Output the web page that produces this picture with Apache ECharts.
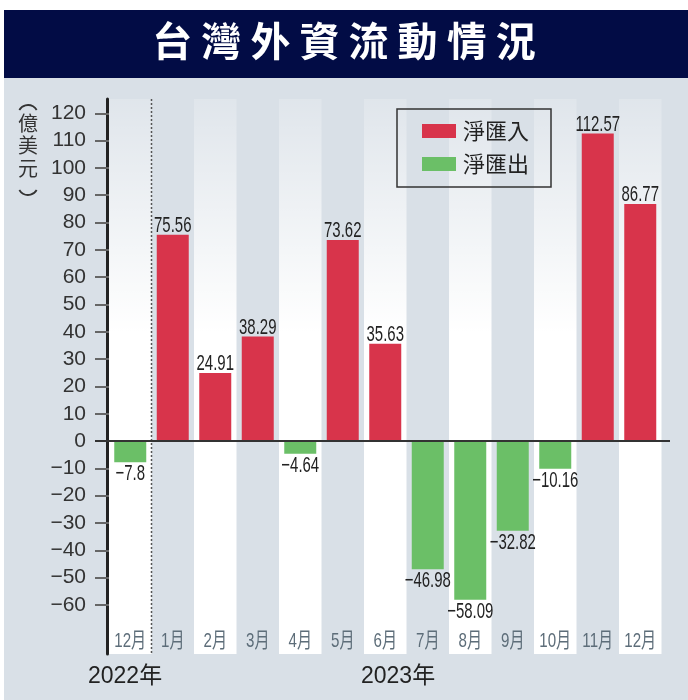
<!DOCTYPE html>
<html>
<head>
<meta charset="utf-8">
<script src="https://cdn.jsdelivr.net/npm/echarts@6/dist/echarts.min.js"></script>
<style>
html,body{margin:0;padding:0;background:#fff;}
#chart{width:688px;height:700px;}
</style>
</head>
<body>
<div id="chart"></div>
<script>
// ---- data ----
const titleText = '台灣外資流動情況';
const months = ['12月','1月','2月','3月','4月','5月','6月','7月','8月','9月','10月','11月','12月'];
const netFlow = [-7.8, 75.56, 24.91, 38.29, -4.64, 73.62, 35.63, -46.98, -58.09, -32.82, -10.16, 112.57, 86.77];
const seriesNames = ['淨匯入', '淨匯出'];
const yearLabels = ['2022年', '2023年'];
const unitChars = '億\n美\n元';

const inflow = netFlow.map(v => v > 0 ? v : null);
const outflow = netFlow.map(v => v < 0 ? v : null);

const RED = '#d8344b';
const GREEN = '#6bbf67';
const SANS = "'Liberation Sans', Arial, 'Noto Sans CJK TC', sans-serif";
const CJK = "'Noto Sans CJK TC', sans-serif";

const fmtNum = v => (v < 0 ? '−' + Math.abs(v) : String(v));

const chart = echarts.init(document.getElementById('chart'), null, {renderer: 'canvas'});

const option = {
  animation: false,
  backgroundColor: '#ffffff',
  title: {
    text: titleText.split('').join(' '),
    left: 'center',
    top: 16,
    textStyle: {color: '#ffffff', fontSize: 40, fontWeight: 'bold', fontFamily: CJK}
  },
  legend: {
    data: seriesNames,
    orient: 'vertical',
    left: 397,
    top: 109,
    padding: [11, 22, 12, 25],
    itemGap: 11,
    itemWidth: 34,
    itemHeight: 14,
    icon: 'rect',
    borderColor: '#333',
    borderWidth: 1.5,
    backgroundColor: 'transparent',
    textStyle: {fontSize: 22, lineHeight: 22, color: '#222', fontFamily: CJK, padding: [0, 0, 0, 2]}
  },
  grid: [
    {left: 109, right: 26.5, top: 99, bottom: 46, containLabel: false},
    {left: 109, right: 26.5, top: 113.3, bottom: 95.1, containLabel: false}
  ],
  xAxis: [
    {
      gridIndex: 0,
      type: 'category',
      data: months,
      position: 'bottom',
      boundaryGap: true,
      axisLine: {show: false},
      axisTick: {show: false},
      axisLabel: {show: false},
      splitArea: {
        show: true,
        interval: 0,
        areaStyle: {
          color: [
            {type: 'linear', x: 0, y: 0, x2: 0, y2: 1, colorStops: [
              {offset: 0, color: 'rgba(255,255,255,0.18)'},
              {offset: 0.42, color: 'rgba(255,255,255,1)'},
              {offset: 1, color: 'rgba(255,255,255,1)'}
            ]},
            'rgba(0,0,0,0)'
          ]
        }
      },
      splitLine: {show: false}
    },
    {
      gridIndex: 1,
      type: 'category',
      data: months,
      boundaryGap: true,
      axisLine: {show: true, onZero: true, lineStyle: {color: '#333', width: 2}},
      axisTick: {show: false},
      axisLabel: {show: false},
      splitLine: {show: false}
    }
  ],
  yAxis: [
    {
      gridIndex: 0,
      type: 'value',
      min: 0, max: 1,
      offset: 1.5,
      axisLine: {show: true, lineStyle: {color: '#222', width: 3}},
      axisTick: {show: false},
      axisLabel: {show: false},
      splitLine: {show: false}
    },
    {
      gridIndex: 1,
      type: 'value',
      min: -60, max: 120, interval: 10,
      axisLine: {show: false},
      axisTick: {show: true, length: 14, lineStyle: {color: '#666', width: 2}},
      axisLabel: {
        margin: 23, fontSize: 21, color: '#333', fontFamily: SANS,
        formatter: fmtNum
      },
      splitLine: {show: false}
    }
  ],
  series: [
    {
      name: seriesNames[0],
      type: 'bar',
      xAxisIndex: 1, yAxisIndex: 1,
      data: inflow,
      barWidth: 32,
      barGap: '-100%',
      itemStyle: {color: RED}
    },
    {
      name: seriesNames[1],
      type: 'bar',
      xAxisIndex: 1, yAxisIndex: 1,
      data: outflow,
      barWidth: 32,
      barGap: '-100%',
      itemStyle: {color: GREEN}
    },
    {
      name: 'valueLabels',
      type: 'custom',
      xAxisIndex: 1, yAxisIndex: 1,
      z: 5,
      silent: true,
      data: netFlow.map((v, i) => [i, v]),
      renderItem: function (params, api) {
        const i = api.value(0), v = api.value(1);
        const p = api.coord([i, v]);
        return {
          type: 'text', x: p[0], y: v > 0 ? p[1] + 2 : p[1] + 1, scaleX: 0.68,
          style: {
            text: fmtNum(v), fontSize: 22, fill: '#222', fontFamily: SANS,
            align: 'center', verticalAlign: v > 0 ? 'bottom' : 'top'
          }
        };
      }
    },
    {
      name: 'monthLabels',
      type: 'custom',
      xAxisIndex: 0, yAxisIndex: 0,
      z: 5,
      silent: true,
      data: months.map((m, i) => [i, 0]),
      renderItem: function (params, api) {
        const i = api.value(0);
        const p = api.coord([i, 0]);
        return {
          type: 'text', x: p[0], y: p[1] - 2, scaleX: 0.72,
          style: {
            text: months[i], fontSize: 21, fill: '#5d6d79', fontFamily: SANS,
            align: 'center', verticalAlign: 'bottom'
          }
        };
      }
    },
    {
      name: 'yearDivider',
      type: 'custom',
      xAxisIndex: 0, yAxisIndex: 0,
      z: 4,
      silent: true,
      data: [[0, 0]],
      renderItem: function (params, api) {
        const bottom = api.coord([0, 0]);
        const top = api.coord([0, 1]);
        const half = api.size([1, 0])[0] / 2;
        const x = bottom[0] + half;
        return {
          type: 'line',
          shape: {x1: x, y1: top[1], x2: x, y2: bottom[1]},
          style: {stroke: '#555', lineWidth: 1.5, lineDash: [2, 2]}
        };
      }
    }
  ],
  graphic: [
    {type: 'rect', id: 'bg', z: -100, silent: true,
      shape: {x: 4, y: 78, width: 684, height: 622}, style: {fill: '#d9e0e7'}},
    {type: 'rect', id: 'titlebar', z: -100, silent: true,
      shape: {x: 4, y: 10, width: 684, height: 68}, style: {fill: '#020c45'}},
    {type: 'arc', id: 'unitOpen', z: 10, silent: true,
      shape: {cx: 28, cy: 115, r: 10, startAngle: -5 * Math.PI / 6, endAngle: -Math.PI / 6, clockwise: true},
      style: {stroke: '#333', lineWidth: 1.8, fill: null}},
    {type: 'text', id: 'unit', z: 10, silent: true, x: 28, y: 112,
      style: {text: unitChars, fontSize: 20, lineHeight: 22.5, fill: '#333', fontFamily: CJK, align: 'center', verticalAlign: 'top'}},
    {type: 'arc', id: 'unitClose', z: 10, silent: true,
      shape: {cx: 28, cy: 185, r: 10, startAngle: Math.PI / 6, endAngle: 5 * Math.PI / 6, clockwise: true},
      style: {stroke: '#333', lineWidth: 1.8, fill: null}},
    {type: 'text', id: 'y2022', z: 10, silent: true, left: 88, top: 665,
      style: {text: yearLabels[0], fontSize: 23, fill: '#222', fontFamily: SANS}},
    {type: 'text', id: 'y2023', z: 10, silent: true, left: 361, top: 665,
      style: {text: yearLabels[1], fontSize: 23, fill: '#222', fontFamily: SANS}}
  ]
};

chart.setOption(option);

const zeroY = chart.convertToPixel({yAxisIndex: 1}, 0);
chart.setOption({
  graphic: [
    {type: 'line', id: 'zeroExt', z: 50, silent: true,
      shape: {x1: 95, y1: zeroY, x2: 670, y2: zeroY},
      style: {stroke: '#333', lineWidth: 2}}
  ]
});
</script>
</body>
</html>
